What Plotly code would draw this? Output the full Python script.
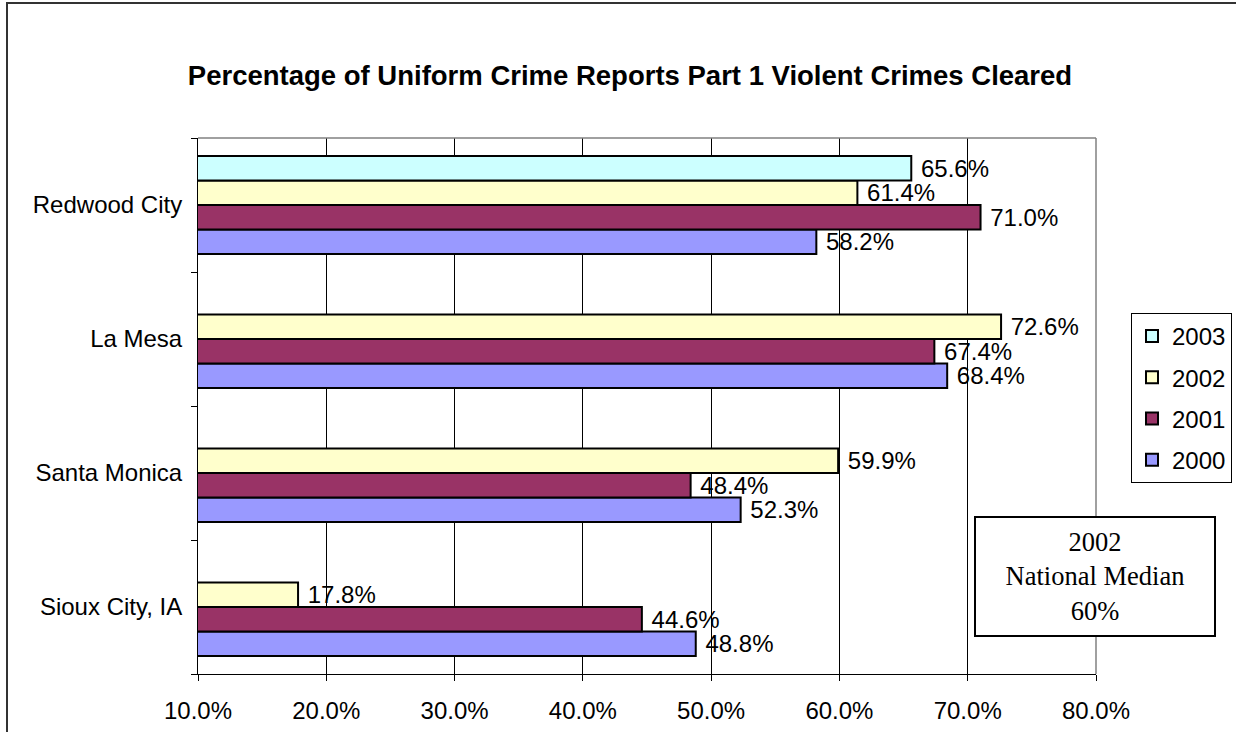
import plotly.graph_objects as go

cities = ["Sioux City, IA", "Santa Monica", "La Mesa", "Redwood City"]
years = ["2000", "2001", "2002", "2003"]
v2000 = [48.8, 52.3, 68.4, 58.2]
v2001 = [44.6, 48.4, 67.4, 71.0]
v2002 = [17.8, 59.9, 72.6, 61.4]
v2003 = [None, None, None, 65.6]
colors = ["#9999FF", "#993366", "#FFFFCC", "#CCFFFF"]
x_ticks = [10, 20, 30, 40, 50, 60, 70, 80]

W, H = 1236, 732
L, R, T, B = 198, 1096, 138, 674
PW, PH = R - L, B - T
FONT = "Liberation Sans, Arial, sans-serif"
FS = 24


def px(x):
    return (x - L) / PW


def py(y):
    return (B - y) / PH


fig = go.Figure()
for i, (name, vals, col) in enumerate(zip(years, [v2000, v2001, v2002, v2003], colors)):
    fig.add_trace(go.Bar(
        y=cities, x=vals, name=name, orientation="h",
        marker=dict(color=col, line=dict(color="black", width=2)),
        texttemplate=" %{x:.1f}%", textposition="outside",
        textfont=dict(family=FONT, size=FS, color="black"),
        cliponaxis=False, constraintext="none",
        legendgroup=name, legendrank=len(years) - i,
    ))

fig.update_layout(
    width=W, height=H,
    margin=dict(l=L, r=W - R, t=T, b=H - B, pad=0, autoexpand=False),
    paper_bgcolor="white", plot_bgcolor="white",
    barmode="group", bargap=0.27, bargroupgap=0,
    font=dict(family=FONT, size=FS, color="black"),
    title=dict(text="<b>Percentage of Uniform Crime Reports Part 1 Violent Crimes Cleared</b>",
               x=630 / W, xanchor="center", y=1 - 75 / H, yanchor="middle",
               font=dict(family=FONT, size=27.5, color="black")),
    xaxis=dict(range=[10, 80], tickvals=x_ticks, ticktext=[f"{v:.1f}%" for v in x_ticks],
               showgrid=True, gridcolor="black", gridwidth=1, zeroline=False,
               showline=True, linecolor="black", linewidth=1,
               ticks="outside", ticklen=6, tickcolor="black", tickfont=dict(size=FS),
               ticklabelstandoff=9),
    yaxis=dict(categoryorder="array", categoryarray=cities, showgrid=False,
               showline=True, linecolor="black", linewidth=1, tickson="boundaries",
               ticks="outside", ticklen=6, tickcolor="black", tickfont=dict(size=FS),
               ticklabelstandoff=10),
    legend=dict(x=px(1131), xanchor="left", y=py(313), yanchor="top",
                bordercolor="black", borderwidth=1, bgcolor="white",
                traceorder="grouped", tracegroupgap=7,
                font=dict(family=FONT, size=FS)),
    showlegend=True,
)

fig.add_shape(type="line", xref="paper", yref="paper", x0=0, x1=1, y0=1, y1=1,
              line=dict(color="#808080", width=1.5), layer="above")
fig.add_shape(type="line", xref="paper", yref="paper", x0=1, x1=1, y0=0, y1=1,
              line=dict(color="#808080", width=1.5), layer="above")
# outer chart border
fig.add_shape(type="rect", xref="paper", yref="paper",
              x0=px(7), x1=px(1300), y0=py(800), y1=py(3),
              line=dict(color="#333333", width=2), layer="below")

fig.add_annotation(xref="paper", yref="paper",
                   x=px(1094.5), y=py(576),
                   xanchor="center", yanchor="middle",
                   text="2002<br>National Median<br>60%", showarrow=False,
                   font=dict(family="Liberation Serif, Times New Roman, serif", size=26.5, color="black"),
                   bordercolor="black", borderwidth=2, bgcolor="white",
                   width=236, height=115, align="center")

fig.write_html("out.html", config={"displayModeBar": False},
               post_script="document.body.style.margin='0';")
